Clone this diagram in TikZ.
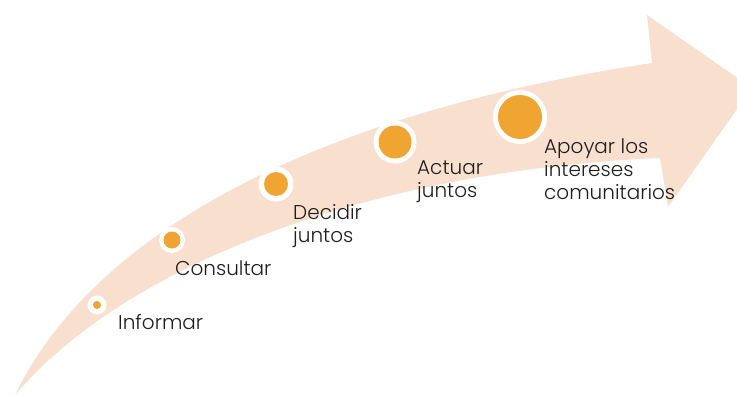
\documentclass[tikz,border=0pt]{standalone}
\usepackage{fontspec}
\setmainfont{Poppins}[UprightFont=* Light]
\definecolor{peach}{RGB}{249,224,206}
\definecolor{dotorange}{RGB}{240,165,50}
\definecolor{txt}{RGB}{30,30,30}
\begin{document}
\begin{tikzpicture}[x=1pt,y=-1pt,
  band/.style={fill=peach, draw=none},
  dotring/.style={circle, fill=white, inner sep=0pt},
  dotcore/.style={circle, fill=dotorange, inner sep=0pt},
  lbl/.style={font=\fontsize{20}{23}\selectfont, text=txt, inner sep=0pt, align=left, anchor=base west}]
\useasboundingbox (0,0) rectangle (737,396);
\clip (0,0) rectangle (737,396);
\fill[band] (15,395) .. controls (100,220) and (340,110) .. (652,63) -- (647,15) -- (752,88) -- (668,207) -- (660,158) .. controls (380,170) and (130,260) .. (15,395) -- cycle;

\node[dotring, minimum size=19pt] (r1) at (97,305) {};
\node[dotcore, minimum size=8pt] (c1) at (r1) {};
\node[dotring, minimum size=26pt] (r2) at (172,240) {};
\node[dotcore, minimum size=17pt] (c2) at (r2) {};
\node[dotring, minimum size=35pt] (r3) at (276,184) {};
\node[dotcore, minimum size=24pt] (c3) at (r3) {};
\node[dotring, minimum size=43pt] (r4) at (395,142) {};
\node[dotcore, minimum size=33pt] (c4) at (r4) {};
\node[dotring, minimum size=54pt] (r5) at (520,117) {};
\node[dotcore, minimum size=44pt] (c5) at (r5) {};

\node[lbl] (t1) at (118,329) {Informar};
\node[lbl] (t2) at (175,275) {Consultar};
\node[lbl] (t3) at (293,242) {Decidir\\juntos};
\node[lbl] (t4) at (417,197) {Actuar\\juntos};
\node[lbl] (t5) at (544,199) {Apoyar los\\intereses\\comunitarios};
\end{tikzpicture}
\end{document}
